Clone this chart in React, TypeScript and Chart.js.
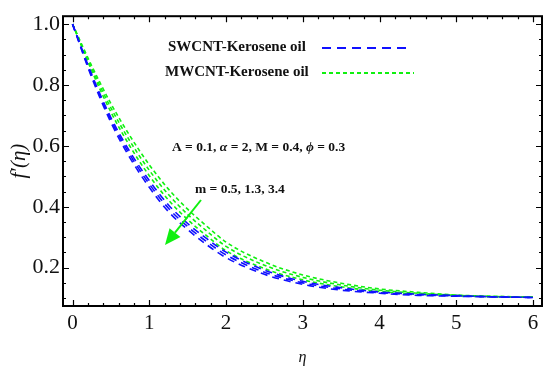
import React, { useEffect, useRef } from "react";
import { Chart, registerables } from "chart.js";
Chart.register(...registerables);

const eta = [0, 0.25, 0.5, 0.75, 1, 1.25, 1.5, 1.75, 2, 2.5, 3, 3.5, 4, 4.5, 5, 5.5, 6];
const swcnt_m05 = [1.0, 0.835, 0.693, 0.58, 0.486, 0.406, 0.345, 0.295, 0.251, 0.192, 0.155, 0.134, 0.12, 0.113, 0.108, 0.104, 0.102];
const swcnt_m13 = [1.0, 0.83, 0.685, 0.57, 0.475, 0.395, 0.335, 0.285, 0.242, 0.185, 0.15, 0.13, 0.118, 0.111, 0.107, 0.104, 0.102];
const swcnt_m34 = [1.0, 0.825, 0.677, 0.56, 0.464, 0.384, 0.325, 0.275, 0.233, 0.178, 0.145, 0.126, 0.116, 0.109, 0.106, 0.104, 0.102];
const mwcnt_m05 = [1.0, 0.863, 0.739, 0.632, 0.538, 0.458, 0.392, 0.336, 0.284, 0.219, 0.176, 0.149, 0.13, 0.119, 0.11, 0.106, 0.103];
const mwcnt_m13 = [1.0, 0.855, 0.725, 0.615, 0.52, 0.44, 0.375, 0.32, 0.27, 0.208, 0.168, 0.143, 0.126, 0.116, 0.109, 0.105, 0.103];
const mwcnt_m34 = [1.0, 0.847, 0.711, 0.598, 0.502, 0.422, 0.358, 0.304, 0.256, 0.197, 0.16, 0.137, 0.122, 0.113, 0.108, 0.104, 0.103];

const xTicks = [0, 1, 2, 3, 4, 5, 6];
const yTicks = [0.2, 0.4, 0.6, 0.8, 1.0];
const xMinorStep = 0.2;
const yMinorStep = 0.05;

const legendLabels = ["SWCNT-Kerosene oil", "MWCNT-Kerosene oil"];
const paramText = ["A = 0.1, ", "α", " = 2, M = 0.4, ", "ϕ", " = 0.3"];
const mText = "m = 0.5, 1.3, 3.4";

const BLUE = "#1010ff";
const GREEN = "#10f010";
const SERIF = "'Liberation Serif', 'Times New Roman', serif";

const toPts = (ys: number[]) => eta.map((x, i) => ({ x, y: ys[i] }));

const framePlugin = {
  id: "framePlugin",
  afterDraw(chart: any) {
    const ctx = chart.ctx;
    const { left, right, top, bottom } = chart.chartArea;
    const xs = chart.scales.x;
    const ys = chart.scales.y;
    ctx.save();
    ctx.strokeStyle = "#000";
    ctx.lineWidth = 2;
    ctx.setLineDash([]);
    ctx.strokeRect(left, top, right - left, bottom - top);
    ctx.lineWidth = 1.2;
    ctx.beginPath();
    for (let v = 0; v <= 6.0001; v += xMinorStep) {
      const px = Math.round(xs.getPixelForValue(v)) + 0.5;
      const major = Math.abs(v - Math.round(v)) < 1e-6;
      const len = major ? 6 : 3;
      ctx.moveTo(px, bottom);
      ctx.lineTo(px, bottom - len);
      ctx.moveTo(px, top);
      ctx.lineTo(px, top + len);
    }
    for (let v = 0.1; v <= 1.0001; v += yMinorStep) {
      const py = Math.round(ys.getPixelForValue(v)) + 0.5;
      const major = Math.abs(v * 5 - Math.round(v * 5)) < 1e-6;
      const len = major ? 6 : 3;
      ctx.moveTo(left, py);
      ctx.lineTo(left + len, py);
      ctx.moveTo(right, py);
      ctx.lineTo(right - len, py);
    }
    ctx.stroke();

    // legend
    ctx.fillStyle = "#111";
    ctx.font = `bold 15px ${SERIF}`;
    ctx.textBaseline = "middle";
    ctx.textAlign = "left";
    ctx.fillText(legendLabels[0], 168, 47);
    ctx.fillText(legendLabels[1], 165, 72);
    ctx.lineWidth = 2;
    ctx.strokeStyle = BLUE;
    ctx.setLineDash([9, 6]);
    ctx.beginPath();
    ctx.moveTo(322, 48);
    ctx.lineTo(412, 48);
    ctx.stroke();
    ctx.strokeStyle = GREEN;
    ctx.setLineDash([4, 3]);
    ctx.beginPath();
    ctx.moveTo(322, 73);
    ctx.lineTo(414, 73);
    ctx.stroke();
    ctx.setLineDash([]);

    // parameter text
    let x = 172;
    const y = 148;
    paramText.forEach((seg, i) => {
      ctx.font = i % 2 === 1 ? `italic bold 13.5px ${SERIF}` : `bold 13.5px ${SERIF}`;
      ctx.fillText(seg, x, y);
      x += ctx.measureText(seg).width;
    });
    ctx.font = `bold 13.5px ${SERIF}`;
    ctx.fillText(mText, 195, 190);

    // arrow
    const x0 = 201, y0 = 200, x1 = 165, y1 = 245;
    const ang = Math.atan2(y1 - y0, x1 - x0);
    const headLen = 16, headW = 7;
    const bx = x1 - headLen * Math.cos(ang);
    const by = y1 - headLen * Math.sin(ang);
    ctx.strokeStyle = GREEN;
    ctx.fillStyle = GREEN;
    ctx.lineWidth = 2;
    ctx.beginPath();
    ctx.moveTo(x0, y0);
    ctx.lineTo(bx, by);
    ctx.stroke();
    ctx.beginPath();
    ctx.moveTo(x1, y1);
    ctx.lineTo(bx + headW * Math.sin(ang), by - headW * Math.cos(ang));
    ctx.lineTo(bx - headW * Math.sin(ang), by + headW * Math.cos(ang));
    ctx.closePath();
    ctx.fill();
    ctx.restore();
  },
};

export default function App() {
  const ref = useRef<HTMLCanvasElement | null>(null);
  useEffect(() => {
    if (!ref.current) return;
    const mk = (label: string, ys: number[], color: string, dash: number[]) => ({
      label,
      data: toPts(ys),
      borderColor: color,
      borderWidth: 1.6,
      borderDash: dash,
      pointRadius: 0,
      fill: false,
      cubicInterpolationMode: "monotone" as const,
    });
    const chart = new Chart(ref.current, {
      type: "line",
      data: {
        datasets: [
          mk("SWCNT m=0.5", swcnt_m05, BLUE, [7, 5]),
          mk("SWCNT m=1.3", swcnt_m13, BLUE, [7, 5]),
          mk("SWCNT m=3.4", swcnt_m34, BLUE, [7, 5]),
          mk("MWCNT m=0.5", mwcnt_m05, GREEN, [4, 3]),
          mk("MWCNT m=1.3", mwcnt_m13, GREEN, [4, 3]),
          mk("MWCNT m=3.4", mwcnt_m34, GREEN, [4, 3]),
        ],
      },
      options: {
        responsive: false,
        animation: false,
        layout: { padding: { left: 0, right: 8, top: 11, bottom: 0 } },
        plugins: { legend: { display: false }, tooltip: { enabled: false } },
        scales: {
          x: {
            type: "linear",
            min: -0.124,
            max: 6.117,
            grid: { display: false, drawTicks: false },
            border: { display: false },
            afterBuildTicks: (s: any) => {
              s.ticks = xTicks.map((v) => ({ value: v }));
            },
            afterFit: (s: any) => {
              s.height = 64;
            },
            ticks: {
              color: "#111",
              padding: 5,
              maxRotation: 0,
              autoSkip: false,
              font: { family: SERIF, size: 21 },
              callback: (v: any) => String(v),
            },
            title: {
              display: true,
              text: "η",
              color: "#111",
              font: { family: SERIF, size: 16, style: "italic" },
              padding: { top: 0, bottom: 3 },
            },
          },
          y: {
            type: "linear",
            min: 0.074,
            max: 1.026,
            grid: { display: false, drawTicks: false },
            border: { display: false },
            afterBuildTicks: (s: any) => {
              s.ticks = yTicks.map((v) => ({ value: v }));
            },
            afterFit: (s: any) => {
              s.width = 63;
            },
            ticks: {
              color: "#111",
              padding: 3,
              autoSkip: false,
              font: { family: SERIF, size: 22 },
              callback: (v: any) => Number(v).toFixed(1),
            },
            title: {
              display: true,
              text: "f′(η)",
              color: "#111",
              font: { family: SERIF, size: 21, style: "italic" },
              padding: { top: 7, bottom: 0 },
            },
          },
        },
      },
      plugins: [framePlugin],
    });
    return () => chart.destroy();
  }, []);
  return (
    <div style={{ position: "fixed", left: 0, top: 0, width: 550, height: 370, background: "#fff" }}>
      <canvas ref={ref} width={550} height={370} />
    </div>
  );
}
